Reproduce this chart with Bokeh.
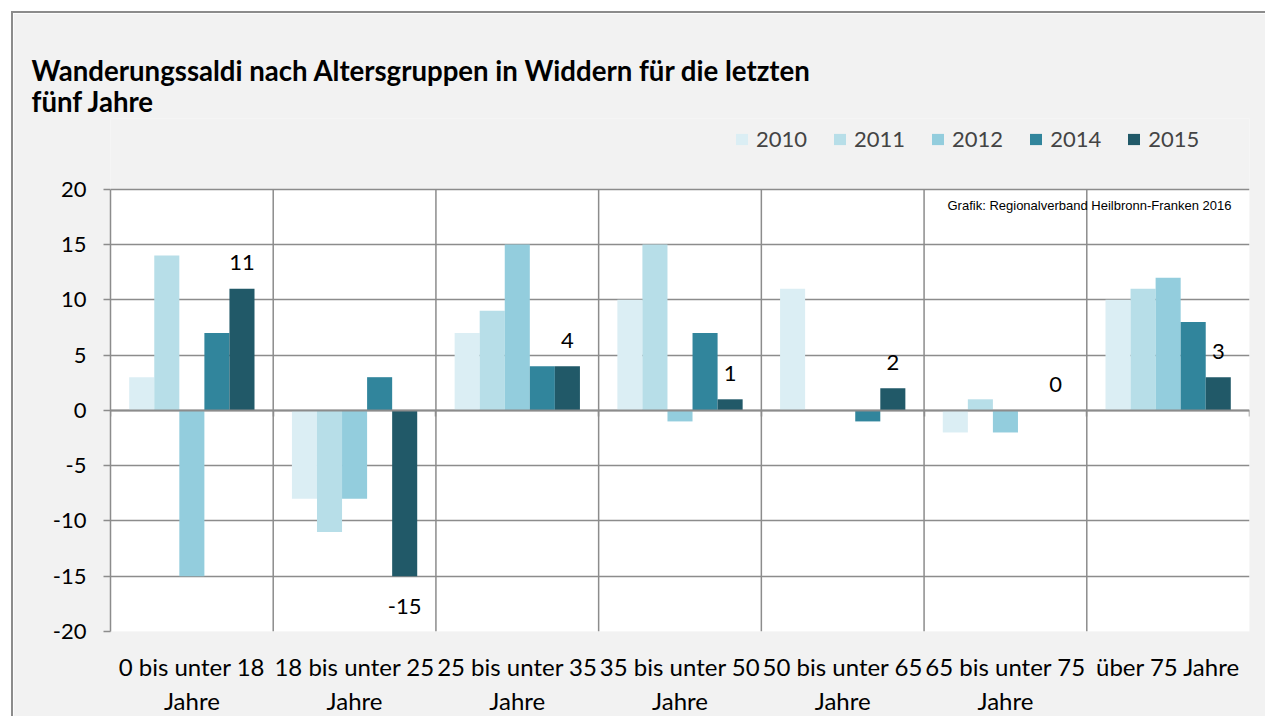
from bokeh.plotting import figure
from bokeh.models import (Range1d, FixedTicker, LinearAxis, Legend, LegendItem, Label, Title,
                          ColumnDataSource, BoxAnnotation)
from bokeh.embed import file_html
from bokeh.resources import INLINE
from bokeh.core.properties import value

# ---- data ----
categories = [
    "0 bis unter 18\nJahre",
    "18 bis unter 25\nJahre",
    "25 bis unter 35\nJahre",
    "35 bis unter 50\nJahre",
    "50 bis unter 65\nJahre",
    "65 bis unter 75\nJahre",
    "über 75 Jahre",
]
years = ["2010", "2011", "2012", "2014", "2015"]
v2010 = [3, -8, 7, 10, 11, -2, 10]
v2011 = [14, -11, 9, 15, 0, 1, 11]
v2012 = [-15, -8, 15, -1, 0, -2, 12]
v2014 = [7, 3, 4, 7, -1, 0, 8]
v2015 = [11, -15, 4, 1, 2, 0, 3]
colors = ["#dbeef4", "#b7dee8", "#93cddd", "#31859c", "#215968"]
y_ticks = [-20, -15, -10, -5, 0, 5, 10, 15, 20]
y_labels = ["-20", "-15", "-10", "-5", "0", "5", "10", "15", "20"]

title_line1 = "Wanderungssaldi nach Altersgruppen in Widdern für die letzten"
title_line2 = "fünf Jahre"
source_text = "Grafik: Regionalverband Heilbronn-Franken 2016"

FONT = "Lato"
GRID = "#8c8c8c"
n = len(categories)
bw = 0.154
Y_MIN, Y_MAX = -20, 20
PLOT_H = 444                      # pixel height of the white plot area
EXTRA_TOP = 71                    # frame pixels above the white plot area (legend strip)
px_per_unit = PLOT_H / (Y_MAX - Y_MIN)

p = figure(width=1254, height=705, x_range=Range1d(0, n),
           y_range=Range1d(Y_MIN, Y_MAX + EXTRA_TOP / px_per_unit),
           output_backend="svg", toolbar_location=None, title=None,
           min_border_left=97, min_border_right=18, min_border_top=105, min_border_bottom=83,
           background_fill_color="#f2f2f2", border_fill_color="#f2f2f2",
           outline_line_color=None)
p.styles = {"margin-left": "11px", "margin-top": "11px",
            "border-left": "2px solid #8c8c8c", "border-top": "2px solid #8c8c8c"}

# white plot area
p.add_layout(BoxAnnotation(left=0, right=n, bottom=Y_MIN, top=Y_MAX, fill_color="white",
                           fill_alpha=1, line_color=None, level="image"))

# vertical category separators
bounds = list(range(1, n))
p.segment(x0=bounds, y0=[Y_MIN] * len(bounds), x1=bounds, y1=[Y_MAX] * len(bounds),
          line_color=GRID, line_width=1.5, level="underlay")
p.xgrid.visible = False

series = [v2010, v2011, v2012, v2014, v2015]
renderers = []
for j, vals in enumerate(series):
    xs = [i + 0.5 + (j - 2) * bw for i in range(n)]
    src = ColumnDataSource(dict(x=xs, top=vals))
    r = p.vbar(x="x", top="top", bottom=0, width=bw, source=src,
               fill_color=colors[j], line_color=None)
    renderers.append(r)

# data labels for 2015
lx = [i + 0.5 + 2 * bw for i in range(n)]
loff = [-26 if v >= 0 else 30 for v in v2015]
lsrc = ColumnDataSource(dict(x=lx, y=v2015, t=[str(v) for v in v2015], off=loff))
p.text(x="x", y="y", text="t", y_offset="off", source=lsrc, text_align="center",
       text_baseline="middle", text_font=value(FONT), text_font_size="22px", text_color="black")

# horizontal grid
p.ygrid.ticker = FixedTicker(ticks=y_ticks)
p.ygrid.grid_line_color = GRID
p.ygrid.grid_line_width = 1.5

# y axis
p.yaxis.ticker = FixedTicker(ticks=y_ticks)
p.yaxis.bounds = (Y_MIN, Y_MAX)
p.yaxis.major_label_overrides = {t: l for t, l in zip(y_ticks, y_labels)}
p.yaxis.axis_line_color = GRID
p.yaxis.axis_line_width = 1.5
p.yaxis.major_tick_line_color = GRID
p.yaxis.major_tick_line_width = 1.5
p.yaxis.major_tick_out = 7
p.yaxis.major_tick_in = 0
p.yaxis.minor_tick_line_color = None
p.yaxis.major_label_standoff = 17
p.yaxis.major_label_text_font = FONT
p.yaxis.major_label_text_font_size = "22px"
p.yaxis.major_label_text_color = "black"

# x axis (labels)
p.xaxis.ticker = FixedTicker(ticks=[i + 0.5 for i in range(n)])
p.xaxis.major_label_overrides = {i + 0.5: categories[i] for i in range(n)}
p.xaxis.axis_line_color = None
p.xaxis.major_tick_line_color = None
p.xaxis.minor_tick_line_color = None
p.xaxis.major_label_standoff = 14
p.xaxis.major_label_text_font = FONT
p.xaxis.major_label_text_font_size = "24px"
p.xaxis.major_label_text_color = "black"

# zero line axis with category boundary ticks
zero_axis = LinearAxis(fixed_location=0, ticker=FixedTicker(ticks=list(range(0, n + 1))),
                       axis_line_color=GRID, axis_line_width=2,
                       major_tick_line_color=GRID, major_tick_line_width=1.5,
                       major_tick_in=6, major_tick_out=0, minor_tick_line_color=None,
                       major_label_standoff=0,
                       major_label_text_color=None, major_label_text_font_size="1px")
p.add_layout(zero_axis, "above")

# legend
legend = Legend(items=[LegendItem(label=years[j], renderers=[renderers[j]]) for j in range(5)],
                orientation="horizontal", location=(624, 479),
                glyph_width=15, glyph_height=14, label_standoff=7, spacing=25,
                label_text_font=FONT, label_text_font_size="22px",
                background_fill_alpha=0, border_line_color=None, padding=0, margin=0)
p.add_layout(legend, "center")

# title (two lines, stacked panels) and source
p.add_layout(Title(text=title_line2, align="left", offset=-79, standoff=2,
                   text_font=FONT, text_font_style="bold", text_font_size="27.6px",
                   text_color="black"), "above")
p.add_layout(Title(text=title_line1, align="left", offset=-79, standoff=-11,
                   text_font=FONT, text_font_style="bold", text_font_size="27.6px",
                   text_color="black"), "above")
p.add_layout(Label(x=1121, y=426, x_units="screen", y_units="screen", text=source_text,
                   text_font="Liberation Sans", text_font_size="13px",
                   text_baseline="middle", text_align="right", text_color="black"))

open("out.html", "w").write(file_html(p, INLINE))
